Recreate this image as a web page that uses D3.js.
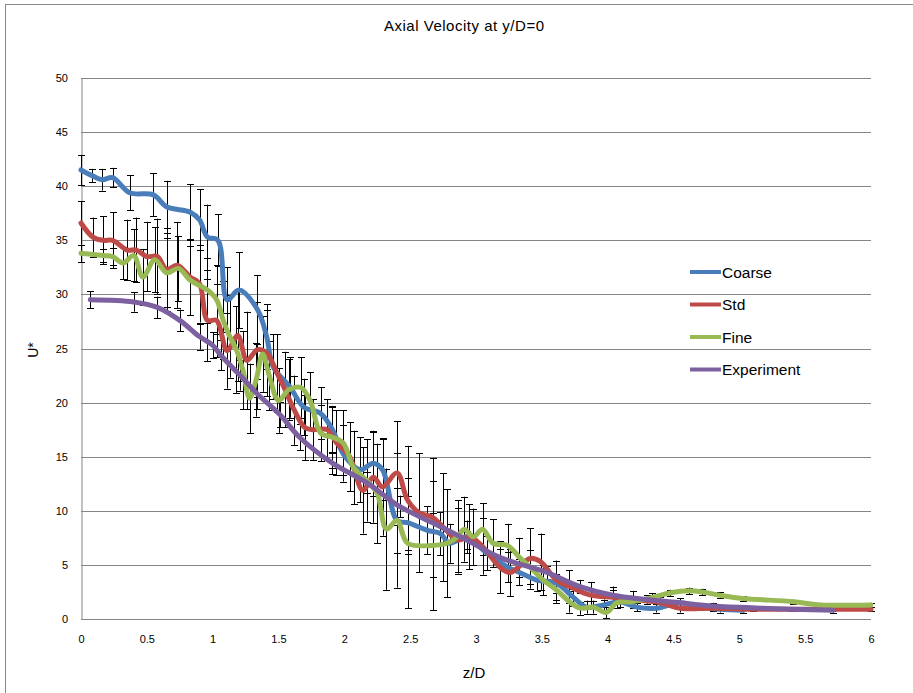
<!DOCTYPE html>
<html>
<head>
<meta charset="utf-8">
<script src="https://cdn.jsdelivr.net/npm/d3@7"></script>
<style>
  body { margin: 0; background: #fff; }
  svg { font-family: "Liberation Sans", Arial, sans-serif; }
</style>
</head>
<body>
<div id="app"></div>
<script>
// data
const coarseZ = [0, 0.08, 0.16, 0.24, 0.37, 0.55, 0.65, 0.83, 0.9, 0.96, 1.04, 1.11, 1.2, 1.34, 1.41, 1.46, 1.59, 1.69, 1.82, 1.91, 1.99, 2.12, 2.22, 2.29, 2.4, 2.48, 2.63, 2.73, 2.8, 2.93, 3.08, 3.24, 3.33, 3.46, 3.61, 3.74, 3.84, 3.97, 4.09, 4.22, 4.37, 4.55, 4.7, 4.85, 5.03];
const coarseU = [41.5, 41.0, 40.6, 40.8, 39.4, 39.2, 38.1, 37.6, 36.9, 35.3, 35.0, 29.5, 30.4, 28.6, 26.1, 23.3, 21.4, 19.6, 19.0, 17.5, 15.3, 13.8, 14.4, 13.8, 9.1, 8.9, 8.2, 7.9, 7.0, 7.6, 6.1, 4.8, 4.3, 3.6, 3.3, 2.0, 1.1, 1.3, 1.6, 1.1, 1.0, 1.5, 1.1, 0.9, 0.8];
const coarseErr = [1.4, 0.6, 1.0, 0.9, 1.6, 2.0, 2.4, 2.6, 2.8, 3.0, 2.4, 3.0, 3.5, 3.2, 3.0, 3.0, 2.8, 2.6, 2.4, 2.2, 2.6, 3.0, 3.0, 2.8, 3.0, 2.5, 2.2, 2.0, 1.8, 1.5, 1.6, 1.4, 1.2, 1.0, 0.9, 0.8, 0.6, 0.5, 0.5, 0.4, 0.4, 0.4, 0.3, 0.3, 0.2];

const stdZ = [0, 0.09, 0.17, 0.24, 0.35, 0.42, 0.5, 0.58, 0.65, 0.73, 0.83, 0.9, 0.96, 1.03, 1.11, 1.19, 1.26, 1.34, 1.41, 1.49, 1.55, 1.62, 1.7, 1.76, 1.87, 1.94, 2.04, 2.14, 2.22, 2.29, 2.4, 2.48, 2.57, 2.67, 2.75, 2.86, 2.95, 3.05, 3.18, 3.26, 3.41, 3.49, 3.61, 3.71, 3.87, 4.04, 4.19, 4.4, 4.55, 4.8, 5.1, 5.4, 5.7, 6.0];
const stdU = [36.6, 35.3, 35.0, 35.0, 34.1, 34.1, 33.5, 33.5, 32.3, 32.7, 31.6, 31.0, 27.6, 27.6, 24.8, 26.2, 23.9, 24.9, 24.6, 22.7, 21.2, 19.3, 17.7, 17.5, 17.5, 16.3, 15.0, 11.9, 13.1, 12.2, 13.5, 11.0, 9.8, 9.4, 8.5, 7.3, 7.6, 6.7, 4.8, 4.3, 5.6, 5.3, 3.6, 3.0, 2.2, 2.0, 1.8, 1.5, 1.0, 1.0, 0.9, 0.9, 0.9, 0.9];
const stdErr = [2.0, 1.8, 2.2, 2.6, 2.8, 3.0, 3.2, 3.5, 3.8, 4.0, 3.5, 3.6, 3.8, 3.4, 3.5, 4.2, 4.5, 4.4, 4.0, 3.6, 3.5, 3.2, 3.0, 2.8, 2.8, 3.0, 3.2, 4.0, 4.2, 4.5, 4.8, 5.0, 5.5, 5.5, 5.0, 3.0, 3.0, 2.6, 2.4, 2.2, 2.8, 2.6, 1.8, 1.5, 1.2, 1.0, 0.8, 0.5, 0.4, 0.3, 0.2, 0.2, 0.2, 0.2];

const fineZ = [0, 0.17, 0.24, 0.32, 0.4, 0.47, 0.56, 0.65, 0.74, 0.83, 0.96, 1.03, 1.08, 1.13, 1.18, 1.23, 1.28, 1.33, 1.38, 1.43, 1.5, 1.58, 1.67, 1.74, 1.82, 1.91, 1.99, 2.07, 2.17, 2.25, 2.32, 2.4, 2.48, 2.67, 2.78, 2.86, 2.91, 2.98, 3.05, 3.13, 3.24, 3.33, 3.41, 3.51, 3.61, 3.71, 3.79, 3.89, 3.99, 4.07, 4.19, 4.34, 4.47, 4.62, 4.72, 4.85, 5.03, 5.41, 5.61, 6.0];
const fineU = [33.8, 33.6, 33.5, 32.9, 33.6, 31.6, 33.2, 32.0, 32.4, 31.3, 30.4, 29.5, 27.6, 26.1, 24.9, 23.0, 20.4, 22.1, 24.5, 22.5, 20.2, 21.2, 21.4, 20.2, 17.2, 16.8, 16.3, 14.0, 12.8, 11.6, 8.3, 9.1, 7.0, 6.8, 7.0, 7.6, 8.3, 7.6, 8.3, 7.0, 6.8, 5.7, 4.8, 3.6, 2.7, 1.6, 1.0, 1.1, 0.6, 1.5, 1.6, 2.0, 2.4, 2.6, 2.5, 2.2, 1.9, 1.6, 1.3, 1.3];
const fineErr = [0.8, 0.6, 0.8, 1.5, 2.4, 2.6, 3.0, 3.2, 3.0, 3.2, 3.0, 3.2, 3.6, 3.8, 4.0, 3.6, 3.2, 3.4, 3.5, 3.2, 3.0, 2.8, 2.8, 2.6, 2.6, 2.8, 3.0, 3.4, 3.8, 4.6, 5.6, 6.2, 6.0, 6.0, 5.0, 3.4, 3.0, 2.6, 2.4, 2.2, 2.0, 1.8, 1.6, 1.4, 1.2, 1.0, 0.6, 0.6, 0.5, 0.5, 0.4, 0.4, 0.3, 0.3, 0.3, 0.3, 0.2, 0.2, 0.2, 0.2];

const expZ = [0.07, 0.4, 0.58, 0.75, 0.9, 1.0, 1.06, 1.21, 1.34, 1.51, 1.66, 1.91, 2.17, 2.42, 2.67, 2.93, 3.18, 3.54, 3.79, 4.04, 4.3, 4.55, 4.8, 5.16, 5.71];
const expU = [29.5, 29.3, 28.8, 27.6, 26.1, 25.3, 24.4, 22.5, 20.8, 18.9, 16.8, 14.4, 12.6, 10.4, 8.9, 7.3, 5.7, 4.3, 3.0, 2.2, 1.8, 1.5, 1.2, 1.0, 0.8];
const expErr = [0.8, 0.9, 1.0, 1.0, 1.2, 1.2, 1.4, 1.4, 1.4, 1.2, 1.2, 1.0, 1.0, 1.0, 0.9, 0.8, 0.8, 0.6, 0.6, 0.5, 0.4, 0.4, 0.3, 0.2, 0.2];

const seriesNames = ["Coarse", "Std", "Fine", "Experiment"];
const seriesColors = ["#4a7ebb", "#be4b48", "#98b954", "#7d60a0"];
const xTicks = [0, 0.5, 1, 1.5, 2, 2.5, 3, 3.5, 4, 4.5, 5, 5.5, 6];
const yTicks = [0, 5, 10, 15, 20, 25, 30, 35, 40, 45, 50];

const series = [
  {name: seriesNames[0], z: coarseZ, u: coarseU, e: coarseErr},
  {name: seriesNames[1], z: stdZ, u: stdU, e: stdErr},
  {name: seriesNames[2], z: fineZ, u: fineU, e: fineErr},
  {name: seriesNames[3], z: expZ, u: expU, e: expErr}
].map((s, i) => ({
  name: s.name,
  color: seriesColors[i],
  pts: s.z.map((z, j) => ({z: z, u: s.u[j], e: s.e[j]}))
}));

// sizing
const width = 913;
const height = 693;
const margin = {left: 81, right: 42, top: 78, bottom: 74};
const innerW = width - margin.left - margin.right;
const innerH = height - margin.top - margin.bottom;

const svg = d3.select("#app")
  .append("svg")
    .attr("width", width)
    .attr("height", height);

// chart frame
svg.append("rect")
  .attr("x", 5.5).attr("y", 4.5)
  .attr("width", 930).attr("height", 720)
  .attr("fill", "none")
  .attr("stroke", "#888")
  .attr("stroke-width", 1);

const g = svg.append("g")
  .attr("transform", "translate(" + margin.left + "," + margin.top + ")");

const x = d3.scaleLinear().domain([0, 6]).range([0, innerW]);
const y = d3.scaleLinear().domain([0, 50]).range([innerH, 0]);

// horizontal gridlines
g.append("g")
  .selectAll("line")
  .data(yTicks)
  .enter().append("line")
    .attr("x1", 0).attr("x2", innerW)
    .attr("y1", d => Math.round(y(d)) + 0.5)
    .attr("y2", d => Math.round(y(d)) + 0.5)
    .attr("stroke", "#868686");

// axes
const yAxis = g.append("g")
  .call(d3.axisLeft(y).tickValues(yTicks).tickSize(0).tickPadding(13));
yAxis.select(".domain").attr("stroke", "#868686").attr("transform", "translate(0.5,0)");
yAxis.selectAll("text").attr("font-size", 11).attr("fill", "#000")
  .attr("font-family", "Liberation Sans, Arial, sans-serif");

const xAxis = g.append("g")
  .attr("transform", "translate(0," + innerH + ")")
  .call(d3.axisBottom(x).tickValues(xTicks).tickSize(0).tickPadding(16).tickFormat(d3.format("")));
xAxis.select(".domain").remove();
xAxis.selectAll("text").attr("font-size", 11).attr("fill", "#000")
  .attr("font-family", "Liberation Sans, Arial, sans-serif");

// error bars (behind the lines)
const allBars = series.flatMap(s => s.pts);
const bars = g.append("g").attr("stroke", "#000").attr("stroke-width", 1);
bars.selectAll("line.v")
  .data(allBars)
  .enter().append("line")
    .attr("class", "v")
    .attr("x1", d => Math.round(x(d.z)) + 0.5)
    .attr("x2", d => Math.round(x(d.z)) + 0.5)
    .attr("y1", d => y(d.u + d.e))
    .attr("y2", d => y(Math.max(0, d.u - d.e)));
bars.selectAll("line.top")
  .data(allBars)
  .enter().append("line")
    .attr("class", "top")
    .attr("x1", d => Math.round(x(d.z)) - 3)
    .attr("x2", d => Math.round(x(d.z)) + 4)
    .attr("y1", d => Math.round(y(d.u + d.e)) + 0.5)
    .attr("y2", d => Math.round(y(d.u + d.e)) + 0.5);
bars.selectAll("line.bot")
  .data(allBars)
  .enter().append("line")
    .attr("class", "bot")
    .attr("x1", d => Math.round(x(d.z)) - 3)
    .attr("x2", d => Math.round(x(d.z)) + 4)
    .attr("y1", d => Math.round(y(Math.max(0, d.u - d.e))) + 0.5)
    .attr("y2", d => Math.round(y(Math.max(0, d.u - d.e))) + 0.5);

// smoothed lines
const line = d3.line()
  .x(d => x(d.z))
  .y(d => y(d.u))
  .curve(d3.curveCatmullRom.alpha(0.5));

g.append("g")
  .selectAll("path")
  .data(series)
  .enter().append("path")
    .attr("d", d => line(d.pts))
    .attr("fill", "none")
    .attr("stroke", d => d.color)
    .attr("stroke-width", 5)
    .attr("stroke-linejoin", "round")
    .attr("stroke-linecap", "round");

// titles
svg.append("text")
  .attr("x", 464).attr("y", 31)
  .attr("text-anchor", "middle")
  .attr("font-size", 15)
  .attr("textLength", 160)
  .text("Axial Velocity at y/D=0");

svg.append("text")
  .attr("x", 474).attr("y", 678)
  .attr("text-anchor", "middle")
  .attr("font-size", 15)
  .text("z/D");

svg.append("text")
  .attr("transform", "translate(38,350) rotate(-90)")
  .attr("text-anchor", "middle")
  .attr("font-size", 14)
  .text("U*");

// legend
const legend = svg.append("g")
  .selectAll("g")
  .data(series)
  .enter().append("g")
    .attr("transform", (d, i) => "translate(690," + (272 + i * 32.5) + ")");
legend.append("line")
  .attr("x1", 0).attr("x2", 31)
  .attr("stroke", d => d.color)
  .attr("stroke-width", 4);
legend.append("text")
  .attr("x", 32).attr("y", 5.5)
  .attr("font-size", 15.5)
  .text(d => d.name);
</script>
</body>
</html>
